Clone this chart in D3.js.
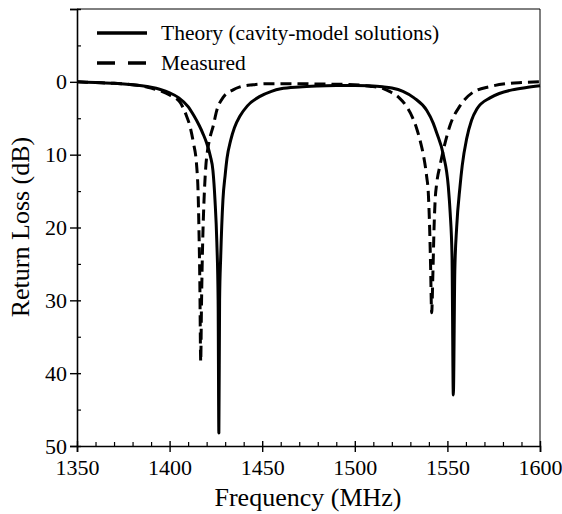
<!DOCTYPE html>
<html>
<head>
<meta charset="utf-8">
<script src="https://cdn.jsdelivr.net/npm/d3@7"></script>
<style>
  html, body { margin: 0; padding: 0; background: #fff; }
  svg { display: block; }
</style>
</head>
<body>
<svg id="chart" width="562" height="514"></svg>
<script>
// ---------------- data ----------------
const xTicks = [1350, 1400, 1450, 1500, 1550, 1600];
const yTicks = [-10, 0, 10, 20, 30, 40, 50];
const yTickLabels = ["", "0", "10", "20", "30", "40", "50"];
const seriesNames = ["Theory (cavity-model solutions)", "Measured"];

const theoryFreq = [1350, 1360, 1370, 1380, 1385, 1390, 1395, 1400, 1405, 1410, 1413, 1416, 1418, 1420, 1422, 1423.4, 1424.5, 1425.5, 1426.2, 1426.6, 1427.0, 1427.6, 1428.8, 1430, 1431, 1433, 1435, 1438, 1442, 1448.8, 1455, 1460, 1470, 1480, 1490, 1500, 1508, 1515, 1520, 1526, 1532, 1538.8, 1542.4, 1544.2, 1547.8, 1550.5, 1551.5, 1552.5, 1553.2, 1554, 1555, 1556.8, 1558, 1560.4, 1563, 1566, 1573, 1578, 1585, 1592, 1600];
const theoryRL   = [0.0, 0.1, 0.2, 0.4, 0.55, 0.75, 1.05, 1.5, 2.2, 3.4, 4.6, 6.0, 7.1, 8.4, 10.2, 12.2, 16.2, 22, 30, 48.2, 30, 24, 16.2, 12.8, 10.5, 8.0, 6.3, 4.7, 3.3, 2.0, 1.3, 0.95, 0.7, 0.58, 0.52, 0.5, 0.55, 0.68, 0.85, 1.3, 2.2, 3.9, 5.7, 7.0, 10.0, 14.4, 18, 24, 43, 26, 20, 14.4, 11.5, 7.8, 5.3, 3.7, 2.2, 1.6, 1.1, 0.8, 0.55];

const measFreq = [1350, 1360, 1370, 1380, 1385, 1390, 1395, 1400, 1405.6, 1409, 1411, 1412.8, 1414.6, 1415.5, 1415.9, 1416.3, 1416.8, 1417.2, 1417.6, 1418, 1418.6, 1419.5, 1420.5, 1421.5, 1423.6, 1425.4, 1429, 1434.3, 1438, 1445, 1452, 1466, 1480, 1495, 1508, 1515, 1519, 1524, 1528, 1531, 1533.4, 1535.5, 1537, 1538.8, 1539.7, 1540.4, 1540.9, 1541.5, 1542.2, 1542.8, 1543.4, 1544.2, 1546, 1547.8, 1551.4, 1556.8, 1564, 1573, 1582, 1590, 1600];
const measRL   = [0.0, 0.1, 0.2, 0.4, 0.55, 0.85, 1.25, 1.8, 2.8, 4.6, 6.1, 8.3, 11.5, 16.2, 21, 27, 38.4, 31, 25, 20.7, 16.2, 11.8, 9.4, 8.0, 6.0, 4.0, 2.1, 1.1, 0.7, 0.4, 0.27, 0.25, 0.3, 0.35, 0.6, 0.9, 1.35, 2.2, 3.4, 4.8, 6.4, 8.3, 10, 13, 15.3, 20, 25, 31.7, 26, 20, 16.2, 14, 11.5, 9.4, 6.0, 3.3, 1.4, 0.65, 0.25, 0.1, 0.0];

// ---------------- layout ----------------
const svg = d3.select("#chart");
const L = 77, R = 540, T = 9, B = 446;
const font = "'Liberation Serif', 'Times New Roman', serif";

const x = d3.scaleLinear().domain([1350, 1600]).range([L, R]);
const y = d3.scaleLinear().domain([-10, 50]).range([T, B]);

// frame (top & right thin)
svg.append("line").attr("x1", L).attr("x2", R).attr("y1", T).attr("y2", T)
  .attr("stroke", "#000").attr("stroke-width", 1);
svg.append("line").attr("x1", R).attr("x2", R).attr("y1", T).attr("y2", B)
  .attr("stroke", "#000").attr("stroke-width", 1);

// minor ticks
const xMinor = d3.range(1360, 1600, 10).filter(v => v % 50 !== 0);
const yMinor = [-5, 5, 15, 25, 35, 45];

const gxMinor = svg.append("g").attr("transform", `translate(0,${B})`)
  .call(d3.axisBottom(x).tickValues(xMinor).tickSize(-4).tickFormat(""));
gxMinor.select(".domain").remove();
gxMinor.selectAll("line").attr("stroke-width", 1.2);

const gyMinor = svg.append("g").attr("transform", `translate(${L},0)`)
  .call(d3.axisLeft(y).tickValues(yMinor).tickSize(-4).tickFormat(""));
gyMinor.select(".domain").remove();
gyMinor.selectAll("line").attr("stroke-width", 1.2);

// major axes
const gx = svg.append("g").attr("transform", `translate(0,${B})`)
  .call(d3.axisBottom(x).tickValues(xTicks).tickSize(6).tickPadding(7).tickFormat(d3.format("d")));
gx.select(".domain").attr("stroke-width", 1.6);
gx.selectAll(".tick line").attr("y1", -5).attr("stroke-width", 1.4);
gx.selectAll("text").attr("font-family", font).attr("font-size", 22).attr("fill", "#000");

const gy = svg.append("g").attr("transform", `translate(${L},0)`)
  .call(d3.axisLeft(y).tickValues(yTicks).tickSize(7).tickPadding(3)
    .tickFormat((d, i) => yTickLabels[i]));
gy.select(".domain").attr("stroke-width", 1.6);
gy.selectAll(".tick line").attr("x1", 4).attr("stroke-width", 1.4);
gy.selectAll("text").attr("font-family", font).attr("font-size", 22).attr("fill", "#000");

// axis titles
svg.append("text").attr("x", 308).attr("y", 506).attr("text-anchor", "middle")
  .attr("font-family", font).attr("font-size", 26).text("Frequency (MHz)");
svg.append("text").attr("transform", `translate(29,227) rotate(-90)`)
  .attr("text-anchor", "middle").attr("font-family", font).attr("font-size", 26)
  .text("Return Loss (dB)");

// curves
const line = d3.line().x(d => x(d[0])).y(d => y(d[1])).curve(d3.curveMonotoneX);
const theory = theoryFreq.map((f, i) => [f, theoryRL[i]]);
const meas = measFreq.map((f, i) => [f, measRL[i]]);

svg.append("path").datum(theory).attr("d", line)
  .attr("fill", "none").attr("stroke", "#000").attr("stroke-width", 3)
  .attr("stroke-linejoin", "round");
svg.append("path").datum(meas).attr("d", line)
  .attr("fill", "none").attr("stroke", "#000").attr("stroke-width", 3)
  .attr("stroke-dasharray", "11,6");

// legend
const legend = svg.append("g");
const legY = [33, 63];
const legDash = [null, "18,13"];
seriesNames.forEach((name, i) => {
  legend.append("line").attr("x1", 97).attr("x2", 147).attr("y1", legY[i]).attr("y2", legY[i])
    .attr("stroke", "#000").attr("stroke-width", 3.5)
    .attr("stroke-dasharray", legDash[i]);
  legend.append("text").attr("x", 161).attr("y", legY[i] + 7)
    .attr("font-family", font).attr("font-size", 21.5).text(name);
});
</script>
</body>
</html>
